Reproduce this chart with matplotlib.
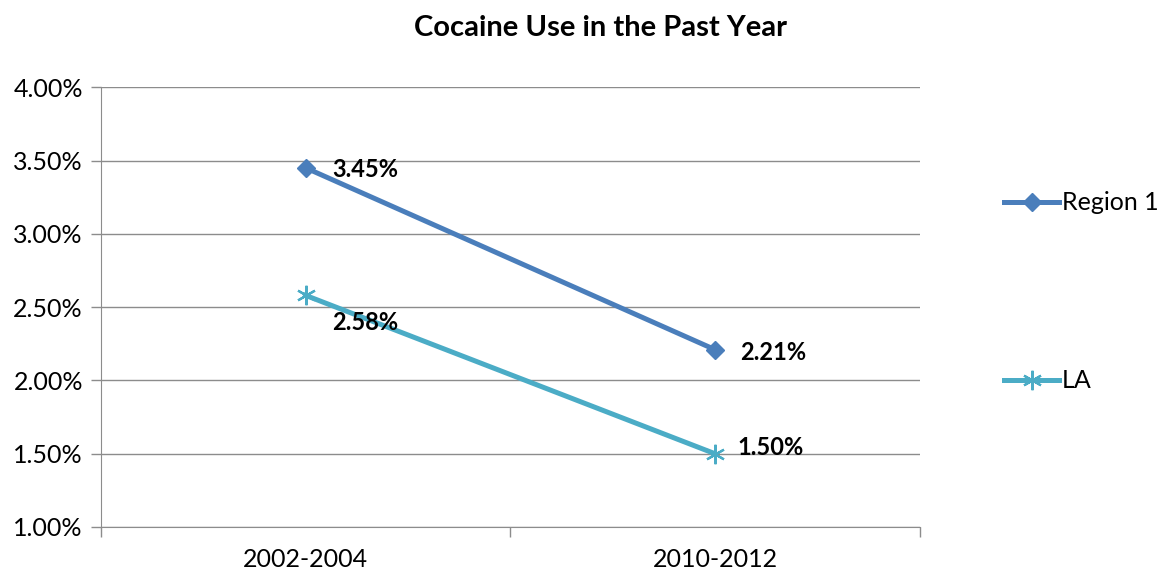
import matplotlib.pyplot as plt

# --- Data ---
periods = ["2002-2004", "2010-2012"]
region1 = [3.45, 2.21]
la = [2.58, 1.50]
y_ticks = [1.0, 1.5, 2.0, 2.5, 3.0, 3.5, 4.0]

BLUE = "#4A7EBB"
TEAL = "#4BACC6"
GRID = "#8C8C8C"

plt.rcParams['font.family'] = ['Lato', 'DejaVu Sans']

fig = plt.figure(figsize=(11.7, 5.74), dpi=100)
ax = fig.add_axes([0.0863, 0.0819, 0.786 - 0.0863, 0.848 - 0.0819])

x = list(range(len(periods)))
ax.plot(x, region1, color=BLUE, linewidth=3.6, marker='D', markersize=9,
        markeredgecolor=BLUE, label="Region 1", zorder=3)
ax.plot(x, la, color=TEAL, linewidth=3.6, marker=(6, 2, 0), markersize=14,
        markeredgewidth=1.6, markeredgecolor=TEAL, label="LA", zorder=3)

# data labels
r_offsets = [(27, -2), (25, -3)]
l_offsets = [(26, -27), (23, 6)]
for i, v in enumerate(region1):
    ax.annotate(f"{v:.2f}%", (x[i], v), textcoords='offset pixels',
                xytext=r_offsets[i], fontsize=17, fontweight='bold',
                va='center', ha='left')
for i, v in enumerate(la):
    ax.annotate(f"{v:.2f}%", (x[i], v), textcoords='offset pixels',
                xytext=l_offsets[i], fontsize=17, fontweight='bold',
                va='center', ha='left')

ax.set_xlim(-0.5, 1.5)
ax.set_ylim(1.0, 4.0)
ax.set_yticks(y_ticks)
ax.set_yticklabels([f"{t:.2f}%" for t in y_ticks], fontsize=18)
ax.set_xticks(x)
ax.set_xticklabels(periods, fontsize=18)
ax.tick_params(axis='x', length=0, pad=15)
ax.set_xticks([-0.5, 0.5, 1.5], minor=True)
ax.tick_params(axis='x', which='minor', length=7, color=GRID, width=1)
ax.tick_params(axis='y', length=7, color=GRID, width=1, pad=6)

ax.yaxis.grid(True, color=GRID, linewidth=1)
ax.set_axisbelow(True)
for side in ["top", "right"]:
    ax.spines[side].set_visible(False)
for side in ["left", "bottom"]:
    ax.spines[side].set_color(GRID)

fig.suptitle("Cocaine Use in the Past Year", x=0.513, y=0.951, va='center',
             fontsize=21, fontweight='bold')

fig.legend(loc='upper left', bbox_to_anchor=(0.839, 0.706), frameon=False,
           fontsize=18, handlelength=2.2, handletextpad=0.1, labelspacing=6.2)

fig.savefig("out.png", dpi=100)
